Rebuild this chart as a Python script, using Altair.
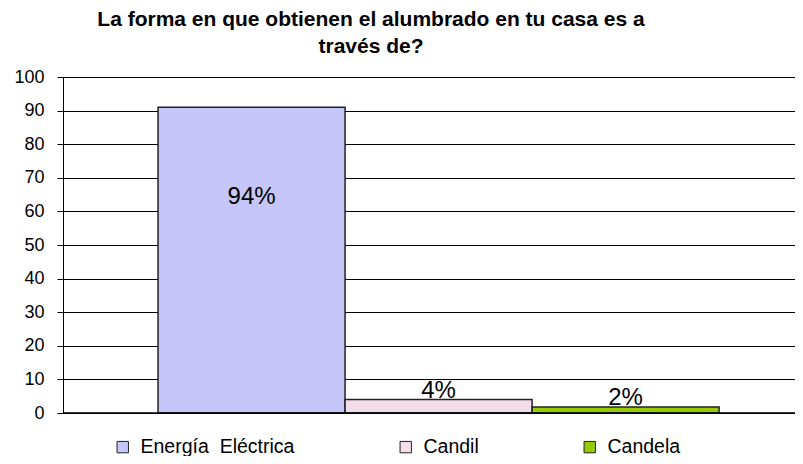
import altair as alt
import pandas as pd

categories = ["Energía\u00a0 Eléctrica", "Candil", "Candela"]
values = [91, 4, 1.8]
labels = ["94%", "4%", "2%"]
fills = ["#c6c6fa", "#f3dde8", "#99cc00"]
y_ticks = [0, 10, 20, 30, 40, 50, 60, 70, 80, 90, 100]

df = pd.DataFrame({"cat": categories, "value": values, "label": labels})

xscale = alt.Scale(domain=categories, paddingInner=0, paddingOuter=0.457, align=0.556)
yscale = alt.Scale(domain=[0, 100], nice=False)
y_axis = alt.Axis(values=y_ticks, title=None, grid=True, gridColor="#000",
                  gridWidth=1, domainColor="#000", tickColor="#000",
                  tickSize=6, labelFont="Liberation Sans", labelFontSize=18,
                  labelColor="#000", labelPadding=13, labelOverlap=False)
color = alt.Color("cat:N", sort=categories,
                  scale=alt.Scale(domain=categories, range=fills),
                  legend=alt.Legend(title=None, orient="none", direction="horizontal",
                                    legendX=50, legendY=360,
                                    symbolType="square", symbolSize=130,
                                    symbolStrokeColor="#222", symbolStrokeWidth=1,
                                    labelFont="Liberation Sans", labelFontSize=19.5,
                                    labelColor="#000", columnPadding=101,
                                    labelLimit=400, labelOffset=8, symbolOpacity=1))

base = alt.Chart(df)

bars = base.mark_bar(stroke="#222", strokeWidth=1.5, opacity=1).encode(
    x=alt.X("cat:N", sort=categories, scale=xscale, axis=None),
    y=alt.Y("value:Q", scale=yscale, axis=y_axis),
    color=color,
)

lab_big = base.transform_filter(alt.datum.value > 50).mark_text(
    font="Liberation Sans", fontSize=24, color="#000", baseline="middle", dy=90
).encode(x=alt.X("cat:N", sort=categories, scale=xscale, axis=None),
         y=alt.Y("value:Q", scale=yscale, axis=y_axis), text="label:N")

lab_small = base.transform_filter(alt.datum.value <= 50).mark_text(
    font="Liberation Sans", fontSize=24, color="#000", baseline="bottom", dy=3
).encode(x=alt.X("cat:N", sort=categories, scale=xscale, axis=None),
         y=alt.Y("value:Q", scale=yscale, axis=y_axis), text="label:N")

baseline = alt.Chart(pd.DataFrame({"v": [0]})).mark_rule(color="#000", strokeWidth=1.5).encode(
    y=alt.Y("v:Q", scale=yscale, axis=y_axis))

chart = alt.layer(bars, lab_big, lab_small, baseline).properties(
    width=732, height=336,
    title=alt.TitleParams(["La forma en que obtienen el alumbrado en tu casa es a", "través de?"],
                          font="Liberation Sans", fontSize=21, fontWeight="bold",
                          color="#000", anchor="middle", dx=-58, offset=11, lineHeight=27),
    autosize=alt.AutoSizeParams(type="none"),
    padding={"left": 55, "top": 69, "right": 0, "bottom": 43},
).configure_view(stroke=None)

chart.save("out.html", embed_options={"renderer": "svg", "actions": False})
